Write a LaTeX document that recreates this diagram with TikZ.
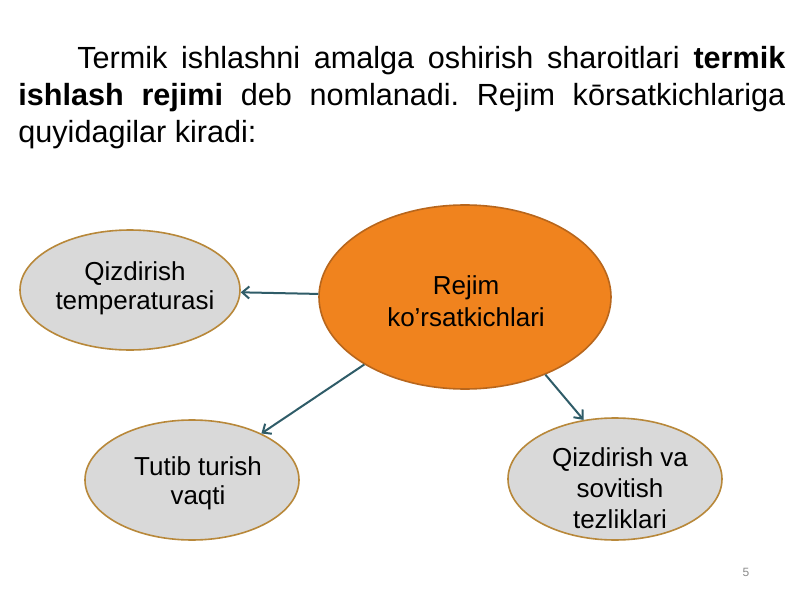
\documentclass[tikz,border=0pt]{standalone}
\usepackage{fontspec}
\setmainfont{Liberation Sans}
\frenchspacing
\usetikzlibrary{shapes.geometric,arrows.meta}
\definecolor{orangefill}{HTML}{F0831E}
\definecolor{orangeline}{HTML}{B8661C}
\definecolor{grayfill}{HTML}{D9D9D9}
\definecolor{grayline}{HTML}{B8883A}
\definecolor{arrowcol}{HTML}{2F5C68}
\definecolor{pagenum}{HTML}{8C8C8C}
\tikzset{
  para/.style={inner sep=0pt, anchor=base west, font=\fontsize{15.3}{18}\selectfont},
  bubble/.style={ellipse, draw=grayline, line width=0.8pt, fill=grayfill, inner sep=0pt},
  centerbubble/.style={ellipse, draw=orangeline, line width=0.8pt, fill=orangefill, inner sep=0pt},
  bubbletext/.style={align=center, inner sep=0pt, font=\fontsize{13}{14.5}\selectfont},
  link/.style={draw=arrowcol, line width=1pt, -{Straight Barb[length=3.5pt,width=6pt]}}
}
\begin{document}
\begin{tikzpicture}[x=0.5pt,y=-0.5pt]
\useasboundingbox (0,0) rectangle (800,600);
\fill[white] (0,0) rectangle (800,600);

% paragraph
\node[para] (l1) at (77,68) {\makebox[354pt][s]{Termik ishlashni amalga oshirish sharoitlari \textbf{termik}}};
\node[para] (l2) at (18,105) {\makebox[383.5pt][s]{\textbf{ishlash rejimi} deb nomlanadi. Rejim kōrsatkichlariga}};
\node[para] (l3) at (18,142) {quyidagilar kiradi:};

% ellipses
\node[centerbubble, minimum width=146pt, minimum height=92pt] (c) at (465,297) {};
\node[bubble, minimum width=110pt, minimum height=60pt] (q1) at (130,290) {};
\node[bubble, minimum width=107pt, minimum height=60pt] (q2) at (192,480) {};
\node[bubble, minimum width=107pt, minimum height=61pt] (q3) at (615,479) {};

% texts
\node[bubbletext, font=\fontsize{13}{16}\selectfont] (ct) at (466,301) {Rejim\\ko’rsatkichlari};
\node[bubbletext] (t1) at (135,288) {Qizdirish\\temperaturasi};
\node[bubbletext] (t2) at (198,483) {Tutib turish\\vaqti};
\node[bubbletext, font=\fontsize{13}{15.5}\selectfont] (t3) at (620,488) {Qizdirish va\\sovitish\\tezliklari};

% connectors
\draw[link] (c) -- (q1);
\draw[link] (c) -- (q2);
\draw[link] (c.-44) -- (q3.118);

% page number
\node[inner sep=0pt, text=pagenum, font=\fontsize{6}{7}\selectfont] (pn) at (746,572) {5};
\end{tikzpicture}
\end{document}
